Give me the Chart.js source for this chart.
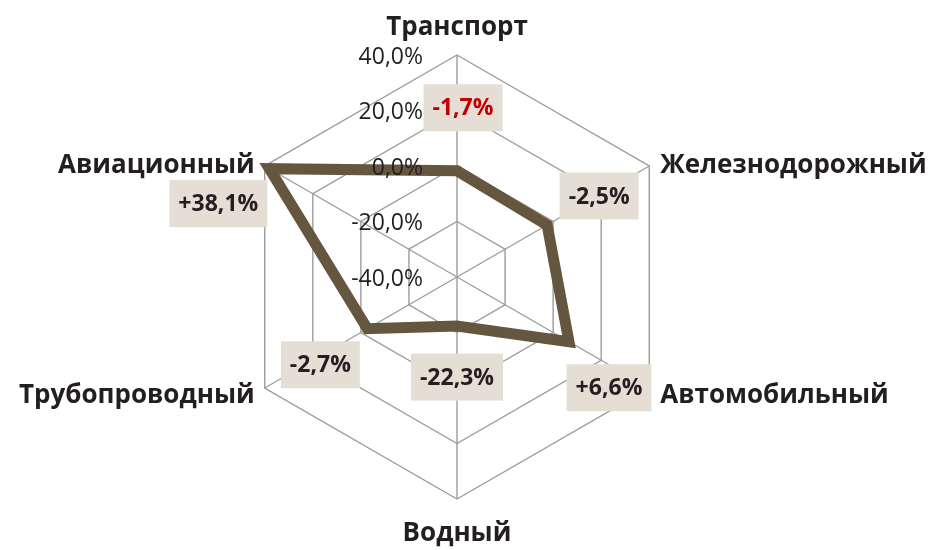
<!DOCTYPE html>
<html>
<head>
<meta charset="utf-8">
<script src="https://cdn.jsdelivr.net/npm/chart.js@4.4.0/dist/chart.umd.min.js"></script>
<style>
html,body{margin:0;padding:0;background:#ffffff;}
#wrap{width:936px;height:550px;position:relative;}
</style>
</head>
<body>
<div id="wrap"><canvas id="c" width="936" height="550"></canvas></div>
<script>
// ---- data ----
const categories = ['Транспорт', 'Железнодорожный', 'Автомобильный', 'Водный', 'Трубопроводный', 'Авиационный'];
const changePct = [-1.7, -2.5, 6.6, -22.3, -2.7, 38.1];
const valueLabels = ['-1,7%', '-2,5%', '+6,6%', '-22,3%', '-2,7%', '+38,1%'];
const tickMin = -40;
const tickMax = 40;
const tickStep = 20;

// ---- style ----
const LINE_COLOR = '#65563f';
const GRID_COLOR = '#9c9c9c';
const TEXT_COLOR = '#231f20';
const BOX_COLOR = '#e4ded5';
const HILITE_COLOR = '#c00000';
const labelOffsets = [[6, -63], [52, -29], [40, 46], [0, 51], [-47, 36], [-51, 35]];

function fmtPct(v) {
  return Number(v).toFixed(1).replace('.', ',') + '%';
}

const overlay = {
  id: 'overlay',
  afterDatasetsDraw(chart) {
    const s = chart.scales.r;
    const ctx = chart.ctx;
    ctx.save();

    // tick labels, right-aligned left of the vertical axis
    ctx.font = '23px "Open Sans"';
    ctx.fillStyle = TEXT_COLOR;
    ctx.textAlign = 'right';
    ctx.textBaseline = 'middle';
    s.ticks.forEach(t => {
      const p = s.getPointPositionForValue(0, t.value);
      ctx.fillText(t.label, s.xCenter - 34, p.y + 2);
    });

    // category labels
    ctx.font = 'bold 26px "Open Sans"';
    ctx.fillStyle = TEXT_COLOR;
    ctx.textBaseline = 'alphabetic';
    categories.forEach((name, i) => {
      const v = s.getPointPosition(i, s.drawingArea);
      const a = s.getIndexAngle(i);
      const sx = Math.sin(a), cy = Math.cos(a);
      if (Math.abs(sx) < 0.01) {
        ctx.textAlign = 'center';
        ctx.fillText(name, v.x, cy > 0 ? v.y - 20 : v.y + 42);
      } else {
        ctx.textAlign = sx > 0 ? 'left' : 'right';
        const x = sx > 0 ? v.x + 11 : v.x - 10;
        const y = cy > 0 ? v.y + 7 : v.y + 15;
        ctx.fillText(name, x, y);
      }
    });

    // value labels in boxes
    const meta = chart.getDatasetMeta(0);
    ctx.font = 'bold 23px "Open Sans"';
    ctx.textAlign = 'center';
    ctx.textBaseline = 'middle';
    meta.data.forEach((el, i) => {
      const txt = valueLabels[i];
      const cx = el.x + labelOffsets[i][0];
      const cyy = el.y + labelOffsets[i][1];
      const w = ctx.measureText(txt).width + 18;
      const h = 47;
      ctx.fillStyle = BOX_COLOR;
      ctx.fillRect(cx - w / 2, cyy - h / 2, w, h);
      ctx.fillStyle = i === 0 ? HILITE_COLOR : TEXT_COLOR;
      ctx.fillText(txt, cx, cyy + 1);
    });

    ctx.restore();
  }
};

new Chart(document.getElementById('c'), {
  type: 'radar',
  data: {
    labels: categories,
    datasets: [{
      data: changePct,
      borderColor: LINE_COLOR,
      backgroundColor: 'rgba(0,0,0,0)',
      borderWidth: 11,
      borderJoinStyle: 'miter',
      fill: false,
      pointRadius: 0,
      pointHoverRadius: 0,
      tension: 0
    }]
  },
  options: {
    responsive: false,
    devicePixelRatio: 1,
    animation: false,
    layout: { padding: { top: 55, bottom: 51, left: 0, right: 22 } },
    plugins: { legend: { display: false }, tooltip: { enabled: false } },
    scales: {
      r: {
        min: tickMin,
        max: tickMax,
        ticks: { stepSize: tickStep, display: false, callback: v => fmtPct(v) },
        grid: { color: GRID_COLOR, lineWidth: 1.4 },
        angleLines: { color: GRID_COLOR, lineWidth: 1.4 },
        pointLabels: { display: false }
      }
    }
  },
  plugins: [overlay]
});
</script>
</body>
</html>
